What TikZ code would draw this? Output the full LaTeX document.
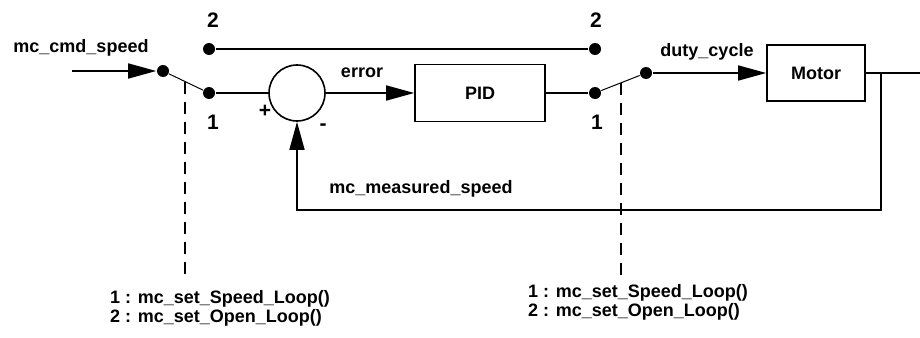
\documentclass[tikz,border=0pt]{standalone}
\usepackage{fontspec}
\setmainfont{Liberation Sans}
\usetikzlibrary{arrows.meta}

\begin{document}
\begin{tikzpicture}[x=1pt, y=-1pt, line width=1.6pt,
    >={Triangle[length=28pt,width=15pt]},
    every node/.style={font=\fontsize{18}{19}\selectfont\bfseries},
    dot/.style={circle, fill, inner sep=0pt, minimum size=12pt},
    blk/.style={draw, inner sep=0pt},
    num/.style={font=\fontsize{21}{21}\selectfont\bfseries},
    lever/.style={line width=1pt},
    link/.style={dash pattern=on 12pt off 8pt, line width=1.4pt}]
    \useasboundingbox (0,0) rectangle (920,337);

    % blocks
    \node[circle, draw, minimum size=56pt, inner sep=0pt] (sum) at (297,93) {};
    \node[blk, minimum width=130pt, minimum height=57pt] (pid) at (480,93) {PID};
    \node[blk, minimum width=98pt, minimum height=56pt] (motor) at (816,73) {Motor};

    % switch contacts
    \node[dot] (s1in) at (163,71) {};
    \node[dot] (s1a) at (209,93) {};
    \node[dot] (s1b) at (209,49) {};
    \node[dot] (s2a) at (595,93) {};
    \node[dot] (s2b) at (595,49) {};
    \node[dot] (s2out) at (646,73) {};

    \coordinate (cmd) at (72,71);
    \coordinate (out) at (920,73);
    \coordinate (tap) at (881,73);
    \coordinate (fb) at (881,210);

    % signal lines
    \draw[->] (cmd) -- (s1in);
    \draw[lever] (s1in) -- (s1a);
    \draw (s1a) -- (sum);
    \draw[->] (sum) -- (pid);
    \draw (pid) -- (s2a);
    \draw (s1b) -- (s2b);
    \draw[lever] (s2a) -- (s2out);
    \draw[->] (s2out) -- (motor);
    \draw (motor) -- (out);
    \draw[->] (tap) -- (fb) -| (sum.south);

    % switch commands
    \coordinate (d1top) at (185,82);
    \coordinate (d1bot) at (185,280);
    \coordinate (d2top) at (621,83);
    \coordinate (d2bot) at (621,276);
    \draw[link] (d1top) -- (d1bot);
    \draw[link] (d2top) -- (d2bot);

    \node[align=left] (cmd1) at (220,308) {1 : mc\_set\_Speed\_Loop()\\2 : mc\_set\_Open\_Loop()};
    \node[align=left] (cmd2) at (638,302) {1 : mc\_set\_Speed\_Loop()\\2 : mc\_set\_Open\_Loop()};

    % labels
    \node[num] at (213,20) {2};
    \node[num] at (213,122) {1};
    \node[num] at (596,20) {2};
    \node[num] at (597,122) {1};
    \node[num] at (265,111) {+};
    \node[num] at (323,127) {-};
    \node at (81,48) {mc\_cmd\_speed};
    \node at (362,73) {error};
    \node at (707,52) {duty\_cycle};
    \node at (421,189) {mc\_measured\_speed};
  \end{tikzpicture}
\end{document}
